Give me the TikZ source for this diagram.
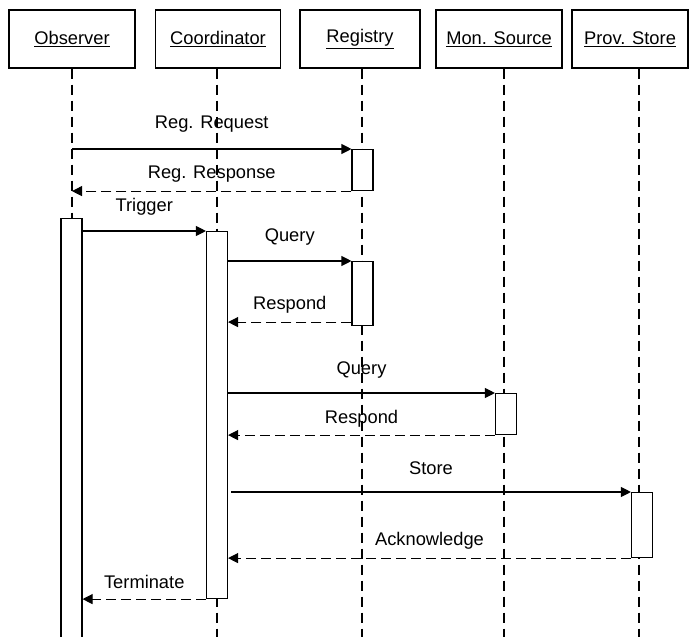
\documentclass[tikz,border=0pt]{standalone}
\usepackage{fontspec}
\setmainfont{Liberation Sans}
\usetikzlibrary{arrows.meta}

\begin{document}
\begin{tikzpicture}[x=1pt,y=-1pt,
        font=\fontsize{18.3}{22}\selectfont,line width=1.1pt,
        head/.style={draw,minimum height=58pt,inner sep=0pt},
        act/.style={draw,fill=white,minimum width=21pt,inner sep=0pt,anchor=north},
        life/.style={line width=1.1pt,dash pattern=on 10pt off 6pt},
        msg/.style={-{Triangle[length=10pt,width=10pt]}},
        reply/.style={msg,dash pattern=on 10pt off 5pt},
        lbl/.style={midway,inner sep=0pt}]

    \useasboundingbox (0,0) rectangle (689,637);

    % objects
    \node[head,minimum width=126pt] (obs)   at (72,39)  {\underline{Observer}};
    \node[head,minimum width=125pt] (coord) at (218,39) {\underline{Coordinator}};
    \node[head,minimum width=120pt] (reg)   at (360,39) {\underline{Registry}};
    \node[head,minimum width=126pt] (mon)   at (499,39) {\underline{Mon. Source}};
    \node[head,minimum width=116pt] (prov)  at (630,39) {\underline{Prov. Store}};

    % lifelines
    \foreach \n/\x in {obs/72,coord/217,reg/362,mon/504,prov/639}
        \draw[life] (\n.south -| \x,0) -- (\x,640);

    % activations
    \node[act,minimum height=430pt] (obsact)   at (71.5,218) {};
    \node[act,minimum height=367pt] (coordact) at (217,231)  {};
    \node[act,minimum height=41pt]  (regact1)  at (362.5,149) {};
    \node[act,minimum height=64pt]  (regact2)  at (362.5,261) {};
    \node[act,minimum height=41pt]  (monact)   at (506,393)  {};
    \node[act,minimum height=65pt]  (provact)  at (642,492)  {};

    % messages
    \draw[msg] (obs.south |- regact1.north west) -- node[lbl,yshift=25pt] {Reg. Request} (regact1.north west);
    \draw[reply] (regact1.south west) -- node[lbl,yshift=17pt] {Reg. Response} (obs.south |- regact1.south west);
    \draw[msg] (obsact.east |- coordact.north) -- node[lbl,yshift=24pt] {Trigger} (coordact.north west);
    \draw[msg] (coordact.east |- regact2.north) -- node[lbl,yshift=24pt] {Query} (regact2.north west);
    \draw[reply] ([yshift=4pt]regact2.south west) -- node[lbl,yshift=17pt] {Respond} ([yshift=4pt]coordact.east |- regact2.south);
    \draw[msg] (coordact.east |- monact.north) -- node[lbl,yshift=23pt] {Query} (monact.north west);
    \draw[reply] (monact.south west) -- node[lbl,yshift=16pt] {Respond} (coordact.east |- monact.south);
    \draw[msg] ([xshift=3pt]coordact.east |- provact.north) -- node[lbl,yshift=24pt] {Store} (provact.north west);
    \draw[reply] (provact.south west) -- node[lbl,yshift=17pt] {Acknowledge} (coordact.east |- provact.south);
    \draw[reply] (coordact.south west) -- node[lbl,yshift=17pt] {Terminate} (obsact.east |- coordact.south);
\end{tikzpicture}
\end{document}
